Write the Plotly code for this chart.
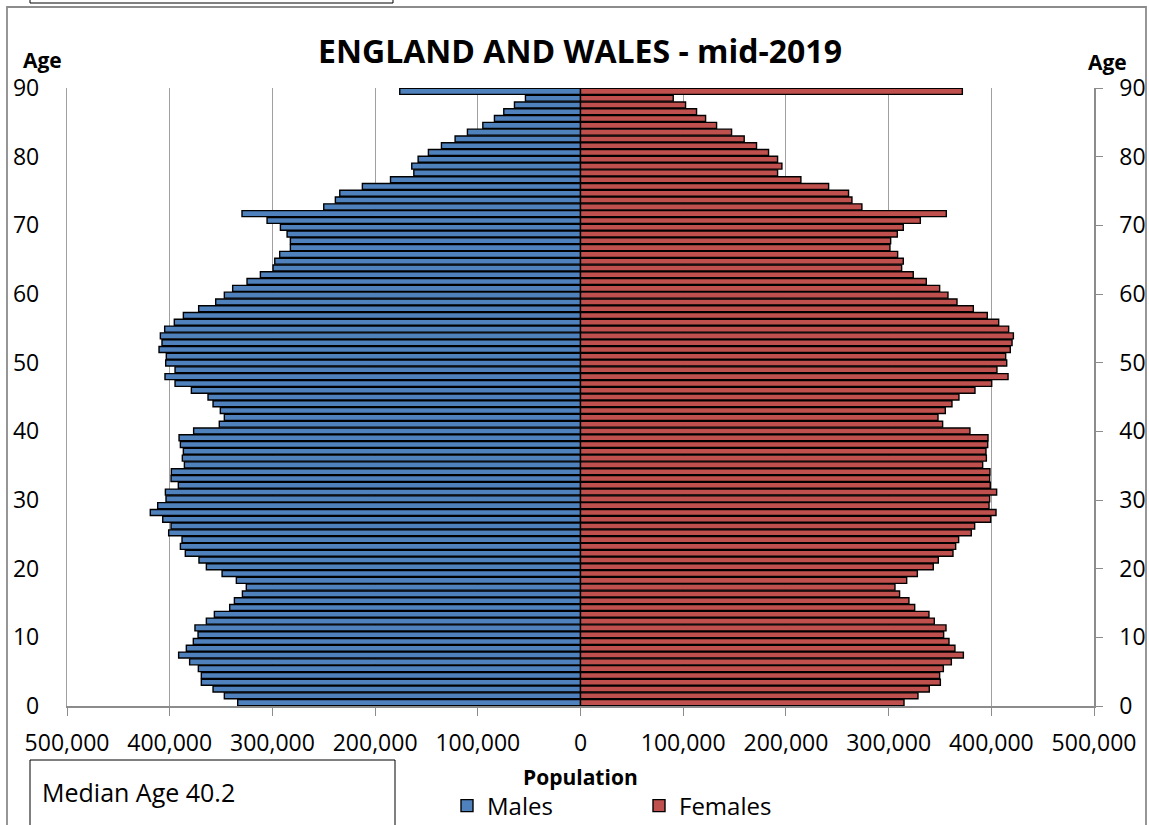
import plotly.graph_objects as go

# ---------------- data ----------------
ages = list(range(0, 91))

males = [
    333800, 346800, 357800, 369200, 369200, 372100, 380600, 391300, 383800, 377000,   # 0-9
    372400, 375400, 364300, 356500, 341600, 337000, 329200, 325400, 335100, 349000,   # 10-19
    364300, 371500, 384800, 389600, 388000, 401000, 398700, 406800, 418900, 411700,   # 20-29
    403600, 404200, 391600, 398700, 398400, 385700, 387700, 386700, 389600, 390900,   # 30-39
    376700, 351700, 346800, 350700, 357800, 362700, 378900, 394800, 404600, 394800,   # 40-49
    403900, 403300, 410400, 407500, 409100, 404900, 395500, 386700, 371800, 355200,   # 50-59
    346800, 338700, 324700, 311700, 299400, 297700, 292900, 282500, 282500, 285700,   # 60-69
    292200, 305200, 329600, 250000, 238700, 234400, 212400, 185000, 162300, 164300,   # 70-79
    158100, 148100, 135400, 122100, 110100, 95100, 83800, 74700, 64300, 53600,        # 80-89
    176000,                                                                           # 90+
]

females = [
    315000, 328600, 339600, 350400, 349700, 353300, 361100, 372800, 364600, 358800,   # 0-9
    353600, 355900, 344500, 339300, 325400, 319800, 310700, 306200, 317600, 328000,   # 10-19
    343500, 348400, 362700, 365300, 368200, 380500, 383800, 399400, 404600, 397800,   # 20-29
    398400, 405200, 399000, 398400, 398700, 391600, 395200, 394800, 396500, 396800,   # 30-39
    379200, 352600, 348100, 355200, 361700, 368500, 384100, 400400, 416300, 405500,   # 40-49
    415000, 414000, 418500, 420200, 421500, 416900, 407200, 396100, 382500, 366600,   # 50-59
    357800, 349700, 336700, 324000, 312700, 314300, 308800, 301300, 302000, 308500,   # 60-69
    314300, 330900, 356200, 274000, 264300, 261000, 241600, 214600, 191900, 196100,   # 70-79
    191900, 183100, 171400, 159400, 147100, 132500, 121800, 113000, 102300, 90300,    # 80-89
    371800,                                                                           # 90+
]

pop_ticks = [-500000, -400000, -300000, -200000, -100000, 0,
             100000, 200000, 300000, 400000, 500000]
pop_ticktext = [f"{abs(v):,}" for v in pop_ticks]
age_ticks = [0, 10, 20, 30, 40, 50, 60, 70, 80, 90]

title_text = "ENGLAND AND WALES - mid-2019"
median_text = "Median Age 40.2"

# ---------------- layout helpers ----------------
W, H = 1149, 825
ML, MR, MT, MB = 67, 55, 88, 119
PW, PH = W - ML - MR, H - MT - MB


def px_x(p):
    return (p - ML) / PW


def px_y(p):
    return (H - MB - p) / PH


# The bars sit on a category-like scale [-0.5, 90.5]; the age labels (as in the
# original spreadsheet) follow a 0..90 value scale spanning the full plot height.
y_lo, y_hi = ages[0] - 0.5, ages[-1] + 0.5
label_pos = [y_lo + a * (y_hi - y_lo) / (age_ticks[-1] - age_ticks[0]) for a in age_ticks]
label_txt = [str(a) for a in age_ticks]

FONT = "Open Sans"
GRID = "#A0A0A0"
AXIS = "#8C8C8C"
BLUE = "#4F81BD"
RED = "#C0504D"

fig = go.Figure()
fig.add_bar(
    y=ages, x=[-v for v in males], orientation="h", name="Males",
    customdata=males, yaxis="y",
    hovertemplate="Age %{y}<br>Males: %{customdata:,}<extra></extra>",
    marker=dict(color=BLUE, line=dict(color="#000000", width=1.4)),
)
fig.add_bar(
    y=ages, x=females, orientation="h", name="Females",
    customdata=females, yaxis="y2",
    hovertemplate="Age %{y}<br>Females: %{customdata:,}<extra></extra>",
    marker=dict(color=RED, line=dict(color="#000000", width=1.4)),
)

tickfont = dict(family=FONT, size=23, color="#000000")

fig.update_layout(
    width=W, height=H,
    margin=dict(l=ML, r=MR, t=MT, b=MB, autoexpand=False),
    paper_bgcolor="white", plot_bgcolor="white",
    barmode="overlay", bargap=0.12,
    font=dict(family=FONT, color="#000000"),
    title=dict(
        text=f"<b>{title_text}</b>",
        x=580 / W, xanchor="center", y=1 - 52 / H, yanchor="middle",
        font=dict(family=FONT, size=32, color="#000000"),
    ),
    xaxis=dict(
        range=[-500000, 500000], tickmode="array",
        tickvals=pop_ticks, ticktext=pop_ticktext,
        showgrid=True, gridcolor=GRID, gridwidth=1.3,
        zeroline=True, zerolinecolor=AXIS, zerolinewidth=2,
        showline=True, linecolor=AXIS, linewidth=1.5,
        ticks="outside", ticklen=8, tickcolor=AXIS, tickwidth=1.3,
        tickfont=tickfont, ticklabelstandoff=8,
    ),
    # left axis: males, with age labels
    yaxis=dict(
        range=[y_lo, y_hi], side="left", anchor="x",
        tickmode="array", tickvals=label_pos, ticktext=label_txt,
        showgrid=False, zeroline=False, showline=True, linecolor=GRID,
        linewidth=1.3, ticks="", tickfont=tickfont, ticklabelstandoff=22,
    ),
    # right axis: females, with age labels
    yaxis2=dict(
        range=[y_lo, y_hi], overlaying="y", side="right", anchor="x",
        tickmode="array", tickvals=label_pos, ticktext=label_txt,
        showgrid=False, zeroline=False, showline=True, linecolor=AXIS,
        linewidth=1.5, ticks="outside", ticklen=7, tickcolor=AXIS,
        tickfont=tickfont, ticklabelstandoff=12,
    ),
    legend=dict(
        orientation="h", x=px_x(447), xanchor="left",
        y=px_y(806), yanchor="middle",
        font=dict(family=FONT, size=24, color="#000000"),
        entrywidth=147, entrywidthmode="pixels",
        bgcolor="rgba(0,0,0,0)", traceorder="normal",
    ),
    showlegend=True,
)

annot_font = dict(family=FONT, size=21, color="#000000")
fig.add_annotation(text="<b>Age</b>", x=px_x(42), y=px_y(60), xref="paper",
                   yref="paper", showarrow=False, font=annot_font,
                   xanchor="center", yanchor="middle")
fig.add_annotation(text="<b>Age</b>", x=px_x(1107), y=px_y(62), xref="paper",
                   yref="paper", showarrow=False, font=annot_font,
                   xanchor="center", yanchor="middle")
fig.add_annotation(text="<b>Population</b>", x=px_x(580), y=px_y(777),
                   xref="paper", yref="paper", showarrow=False,
                   font=annot_font, xanchor="center", yanchor="middle")
fig.add_annotation(text=median_text, x=px_x(40), y=px_y(792), xref="paper",
                   yref="paper", showarrow=False,
                   font=dict(family=FONT, size=25, color="#000000"),
                   xanchor="left", yanchor="middle")

# chart frame, median-age box, and the clipped box at the top-left
fig.add_shape(type="rect", xref="paper", yref="paper",
              x0=px_x(7), x1=px_x(1146), y0=px_y(7), y1=px_y(850),
              line=dict(color=AXIS, width=1.8), layer="below")
fig.add_shape(type="rect", xref="paper", yref="paper",
              x0=px_x(30), x1=px_x(395), y0=px_y(760), y1=px_y(850),
              line=dict(color="#000000", width=1), layer="above")
fig.add_shape(type="rect", xref="paper", yref="paper",
              x0=px_x(30), x1=px_x(393), y0=px_y(-20), y1=px_y(3),
              line=dict(color="#000000", width=1), layer="above")

fig.write_html(
    "out.html",
    config={"displayModeBar": False},
    post_script="document.body.style.margin='0';document.body.style.overflow='hidden';",
)
